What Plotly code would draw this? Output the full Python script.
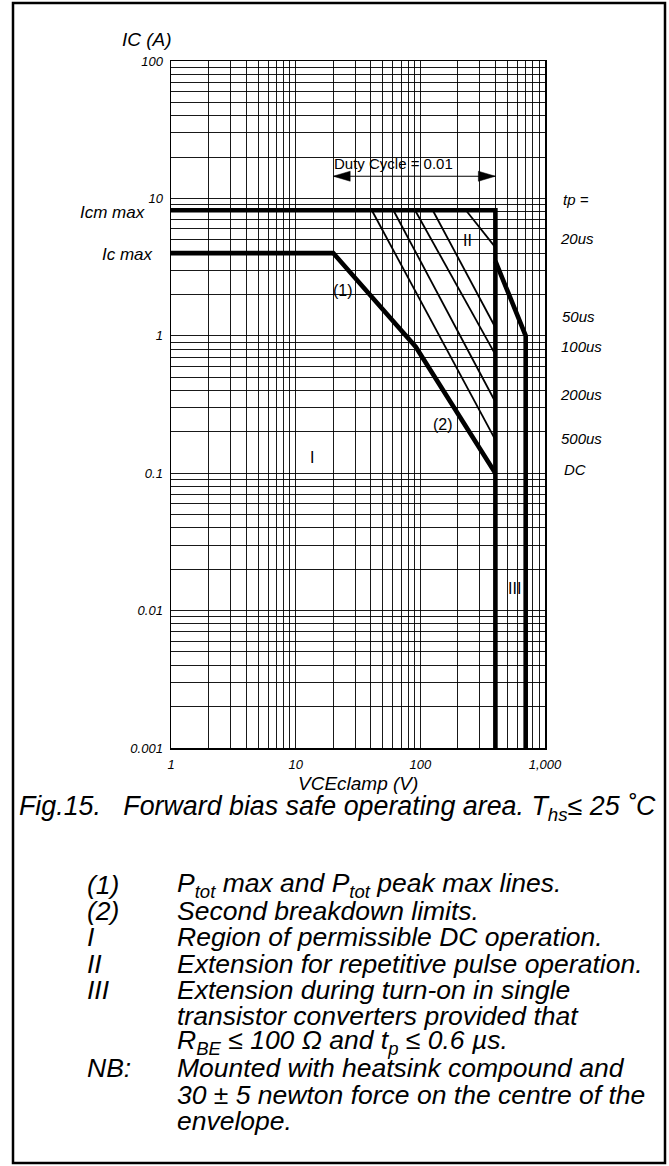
import plotly.graph_objects as go

# ---------------- data ----------------
# DC envelope: Ic max plateau, (1) Ptot line, (2) second breakdown line
vce_dc = [1, 20, 92, 400]
ic_dc = [4.0, 4.0, 0.83, 0.1]
# Icm max plateau and VCEclamp limit
vce_icm = [1, 400, 400]
ic_icm = [8.2, 8.2, 0.001]
# region III extension
vce_iii = [400, 700, 700]
ic_iii = [3.5, 1.0, 0.001]
# pulse lines (start on Icm plateau, end on the 400 V limit)
pulse_names = ["20us", "50us", "100us", "200us", "500us"]
pulse_start_v = [232, 125.7, 90.7, 60.8, 40.8]
pulse_end_i = [4.4, 1.15, 0.73, 0.33, 0.175]
pulse_top_i = 8.2
pulse_end_v = 400
# duty cycle arrow
duty_v = [20, 400]
duty_i = [14.5, 14.5]
# ticks
x_tickvals = [1, 10, 100, 1000]
x_ticktext = ["1", "10", "100", "1,000"]
y_tickvals = [0.001, 0.01, 0.1, 1, 10, 100]
y_ticktext = ["0.001", "0.01", "0.1", "1", "10", "100"]
# right-hand tp labels
tp_labels = ["tp =", "20us", "50us", "100us", "200us", "500us", "DC"]
notes_left = ["(1)", "(2)", "I", "II", "III", "", "", "NB:", "", ""]
notes_right = [
    "P<sub>tot</sub> max and P<sub>tot</sub> peak max lines.",
    "Second breakdown limits.",
    "Region of permissible DC operation.",
    "Extension for repetitive pulse operation.",
    "Extension during turn-on in single",
    "transistor converters provided that",
    "R<sub>BE</sub> \u2264 100 \u03a9 and t<sub>p</sub> \u2264 0.6 \u00b5s.",
    "Mounted with heatsink compound and",
    "30 \u00b1 5 newton force on the centre of the",
    "envelope.",
]

# ---------------- layout geometry (page pixels) ----------------
W, H = 669, 1166
PL, PR, PT, PB = 171, 545, 61, 748          # plot area in page pixels
ML, MT, MR, MB = PL, PT, W - PR, H - PB
PW, PH = W - ML - MR, H - MT - MB
FONT = "Liberation Sans, Arial, sans-serif"


def px(x):  # page x -> paper
    return (x - ML) / PW


def py(y):  # page y -> paper
    return (H - MB - y) / PH


fig = go.Figure()

thick = dict(color="black", width=4.6)
fig.add_trace(go.Scatter(x=vce_icm, y=ic_icm, mode="lines", line=thick, hoverinfo="skip"))
fig.add_trace(go.Scatter(x=vce_dc, y=ic_dc, mode="lines", line=thick, hoverinfo="skip"))
fig.add_trace(go.Scatter(x=vce_iii, y=ic_iii, mode="lines", line=thick, hoverinfo="skip"))
for v0, i1 in zip(pulse_start_v, pulse_end_i):
    fig.add_trace(go.Scatter(x=[v0, pulse_end_v], y=[pulse_top_i, i1], mode="lines",
                             line=dict(color="black", width=1.8), hoverinfo="skip"))
fig.add_trace(go.Scatter(x=duty_v, y=duty_i, mode="lines",
                         line=dict(color="black", width=1.2), hoverinfo="skip"))

# arrow heads (pixel sized, anchored at data points)
for v, sgn in ((duty_v[1], 1), (duty_v[0], -1)):
    fig.add_shape(type="path", xref="x", yref="y", xsizemode="pixel", ysizemode="pixel",
                  xanchor=v, yanchor=duty_i[0],
                  path=f"M0,0 L{-17*sgn},5 L{-17*sgn},-5 Z",
                  fillcolor="black", line=dict(color="black", width=0.5))

# minor grid positions from the axes' decades
x_minor = [d * m for d in x_tickvals[:-1] for m in range(2, 10)]
y_minor = [d * m for d in y_tickvals[:-1] for m in range(2, 10)]

gridc = "rgba(0,0,0,0.9)"
axis_common = dict(type="log", showgrid=True, gridcolor=gridc, gridwidth=1,
                   showline=True, linecolor="black", linewidth=1.5, mirror=True,
                   ticks="", zeroline=False, tickmode="array",
                   tickfont=dict(family=FONT, size=13, color="black", style="italic"))
fig.update_xaxes(range=[0, 3], tickvals=x_tickvals, ticktext=x_ticktext,
                 minor=dict(tickmode="array", tickvals=x_minor, showgrid=True,
                            gridcolor=gridc, gridwidth=1, ticks=""),
                 ticklabelstandoff=4, **axis_common)
fig.update_yaxes(range=[-3, 2], tickvals=y_tickvals, ticktext=y_ticktext,
                 minor=dict(tickmode="array", tickvals=y_minor, showgrid=True,
                            gridcolor=gridc, gridwidth=1, ticks=""),
                 ticklabelstandoff=4, **axis_common)

ann = []


def text(x, y, s, size, italic=True, xanchor="left"):
    ann.append(dict(x=px(x), y=py(y), xref="paper", yref="paper",
                    text=s, showarrow=False, xanchor=xanchor, yanchor="middle",
                    font=dict(family=FONT, size=size, color="black",
                              style="italic" if italic else "normal")))


# axis titles
text(174, 39, "IC (A)", 19, xanchor="right")
text(358, 783, "VCEclamp (V)", 19, xanchor="center")
# left labels
text(147, 212, "Icm max", 17, xanchor="right")
text(155, 255, "Ic max", 17, xanchor="right")
# right labels
tp_y = [199, 238, 316, 346, 394, 438, 469]
tp_x = [561, 558, 560, 559, 558, 559, 562]
for s, xx, yy in zip(tp_labels, tp_x, tp_y):
    text(xx, yy, s, 15)
# in-plot labels
text(332, 163, "Duty Cycle = 0.01", 15, italic=False)
text(343, 290, "(1)", 16, italic=False, xanchor="center")
text(443, 424, "(2)", 16, italic=False, xanchor="center")
text(467, 240, "II", 16, italic=False, xanchor="center")
text(312, 457, "I", 16, italic=False, xanchor="center")
text(514, 588, "III", 16, italic=False, xanchor="center")
# caption
text(337, 808, "Fig.15.\u00a0\u00a0\u00a0Forward bias safe operating area. T<sub>hs</sub>\u2264 25 \u02daC",
     26.8, xanchor="center")
# notes
for k, (a, b) in enumerate(zip(notes_left, notes_right)):
    yy = 885 + 26.2 * k
    if a:
        text(85, yy, a, 26.5)
    text(175, yy, b, 26.5)

fig.update_layout(
    width=W, height=H, autosize=False,
    margin=dict(l=ML, r=MR, t=MT, b=MB, pad=0),
    paper_bgcolor="white", plot_bgcolor="white",
    showlegend=False, annotations=ann,
)
# outer frame
fig.add_shape(type="rect", xref="paper", yref="paper",
              x0=px(13), x1=px(665), y0=py(1163), y1=py(3),
              line=dict(color="black", width=2.5), fillcolor="rgba(0,0,0,0)", layer="above")

fig.write_html(
    "out.html",
    config={"displayModeBar": False, "staticPlot": True},
    post_script="document.body.style.margin='0';document.body.style.overflow='hidden';",
)
